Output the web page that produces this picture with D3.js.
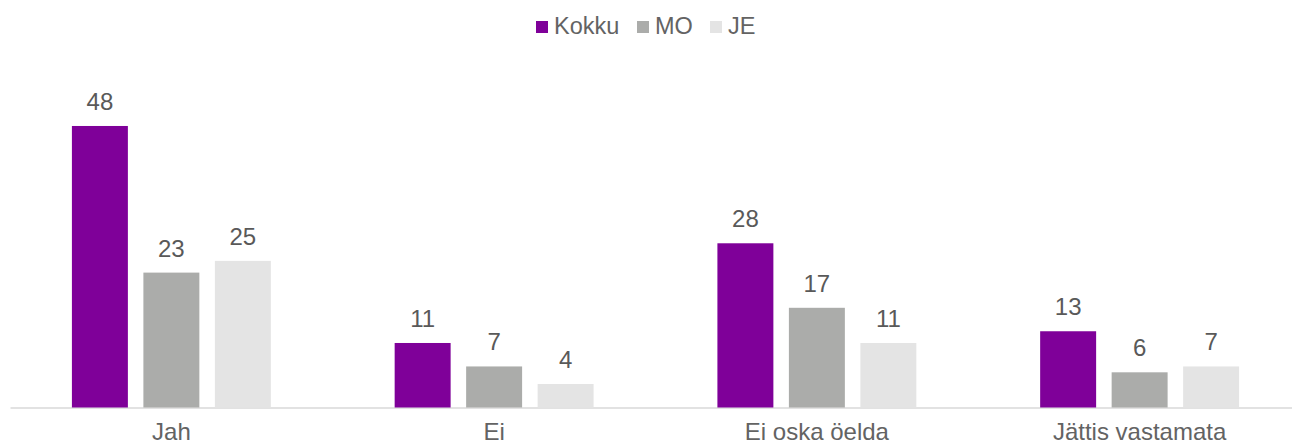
<!DOCTYPE html>
<html>
<head>
<meta charset="utf-8">
<script src="https://cdn.jsdelivr.net/npm/d3@7"></script>
<style>
  body { margin: 0; background: #fff; }
  svg { font-family: "Liberation Sans", Arial, sans-serif; }
</style>
</head>
<body>
<svg id="chart" width="1292" height="445"></svg>
<script>
// Data
const categories = ['Jah', 'Ei', 'Ei oska öelda', 'Jättis vastamata'];
const seriesNames = ['Kokku', 'MO', 'JE'];
const kokku = [48, 11, 28, 13];
const mo = [23, 7, 17, 6];
const je = [25, 4, 11, 7];
const colors = ['#7f0099', '#abacaa', '#e4e4e4'];

const allSeries = [kokku, mo, je];
const table = categories.map((c, i) => ({
    category: c,
    values: seriesNames.map((s, j) => ({ series: s, value: allSeries[j][i] }))
}));

const svg = d3.select('#chart');
const baseline = 407.5;

const x0 = d3.scaleBand()
    .domain(categories)
    .range([10, 1301])
    .paddingInner(0)
    .paddingOuter(0);

const x1 = d3.scaleBand()
    .domain(seriesNames)
    .range([0, x0.bandwidth()])
    .paddingInner(0.217)
    .paddingOuter(0.866);

const y = d3.scaleLinear()
    .domain([0, 60])
    .range([baseline, 55.6]);

// Axis line + category labels
const xAxis = svg.append('g')
    .attr('transform', `translate(0,${baseline})`)
    .call(d3.axisBottom(x0).tickSize(0).tickPadding(0));
xAxis.select('.domain').attr('stroke', '#d9d9d9').attr('stroke-width', 1.5);
xAxis.selectAll('text')
    .attr('dy', null)
    .attr('y', 32.5)
    .attr('fill', '#636363')
    .style('font-size', '24px')
    .style('font-family', '"Liberation Sans", Arial, sans-serif');

// Bars
const groups = svg.selectAll('.cat')
    .data(table)
    .join('g')
    .attr('class', 'cat')
    .attr('transform', d => `translate(${x0(d.category)},0)`);

groups.selectAll('rect')
    .data(d => d.values)
    .join('rect')
    .attr('x', d => x1(d.series))
    .attr('width', x1.bandwidth())
    .attr('y', d => y(d.value))
    .attr('height', d => baseline - y(d.value))
    .attr('fill', (d, i) => colors[i]);

// Value labels
groups.selectAll('text.val')
    .data(d => d.values)
    .join('text')
    .attr('class', 'val')
    .attr('x', d => x1(d.series) + x1.bandwidth() / 2)
    .attr('y', d => y(d.value) - 16)
    .attr('text-anchor', 'middle')
    .attr('fill', '#595959')
    .style('font-size', '24px')
    .text(d => d.value);

// Legend
const legendX = [536, 637, 710];
const legend = svg.append('g');
seriesNames.forEach((s, i) => {
    legend.append('rect')
        .attr('x', legendX[i])
        .attr('y', 21)
        .attr('width', 12)
        .attr('height', 12)
        .attr('fill', colors[i]);
    legend.append('text')
        .attr('x', legendX[i] + 18)
        .attr('y', 34)
        .attr('fill', '#636363')
        .style('font-size', '23.5px')
        .text(s);
});
</script>
</body>
</html>
